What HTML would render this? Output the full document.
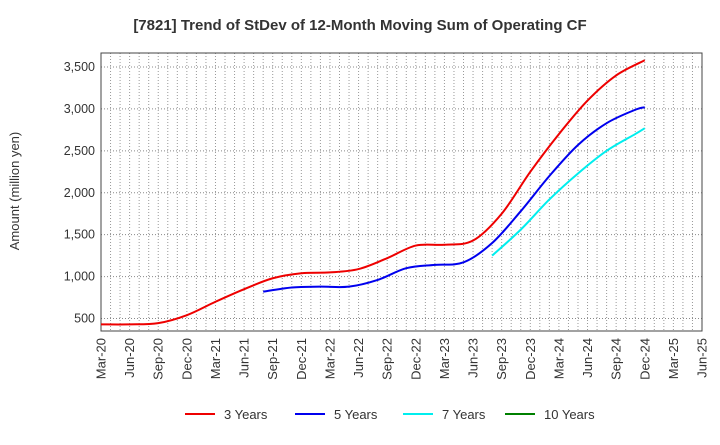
<!DOCTYPE html>
<html><head><meta charset="utf-8"><style>
body{margin:0;background:#fff;font-family:"Liberation Sans",Arial,sans-serif}
svg text{font-family:"Liberation Sans",Arial,sans-serif}
</style></head><body>
<svg id="c" width="720" height="440" xmlns="http://www.w3.org/2000/svg">
<text x="360" y="30" text-anchor="middle" font-size="15" font-weight="bold" fill="#333">[7821]  Trend of StDev of 12-Month Moving Sum of Operating CF</text>
<text transform="translate(19,191) rotate(-90)" text-anchor="middle" font-size="13" fill="#333">Amount (million yen)</text>
<g id="grid"></g><g id="axes"></g><g id="series"></g><g id="legend"></g>
</svg>
<script>
const xLabels=["Mar-20","Jun-20","Sep-20","Dec-20","Mar-21","Jun-21","Sep-21","Dec-21","Mar-22","Jun-22","Sep-22","Dec-22","Mar-23","Jun-23","Sep-23","Dec-23","Mar-24","Jun-24","Sep-24","Dec-24","Mar-25","Jun-25"];
const yTicks=[500,1000,1500,2000,2500,3000,3500];
const m3=[0,3,6,9,12,15,18,21,24,27,30,33,36,39,42,45,48,51,54,57];
const v3=[430,430,445,540,700,850,980,1040,1050,1090,1220,1370,1380,1430,1750,2250,2700,3100,3400,3580];
const m5=[17,20,23,26,29,32,35,38,41,44,47,50,53,56,57];
const v5=[820,870,880,880,960,1100,1140,1170,1400,1780,2200,2570,2830,2990,3020];
const m7=[41,44,47,50,53,56,57];
const v7=[1250,1560,1920,2230,2500,2700,2770];
const m10=[];const v10=[];
const L=101,R=702,T=53,B=331,yMin=351,yMax=3667,nM=63;
const X=m=>L+(R-L)*m/nM, Y=v=>B-(B-T)*(v-yMin)/(yMax-yMin);
const NS="http://www.w3.org/2000/svg";
function mk(tag,at,par){const e=document.createElementNS(NS,tag);for(const k in at)e.setAttribute(k,at[k]);document.getElementById(par).appendChild(e);return e;}
for(let m=0;m<=nM;m++){const g=mk("line",{x1:X(m),x2:X(m),y1:T,y2:B,stroke:"#999","stroke-dasharray":"1,2","stroke-width":1},"grid");

}
yTicks.forEach(v=>{const g=mk("line",{x1:L,x2:R,y1:Y(v),y2:Y(v),stroke:"#888","stroke-dasharray":"1,2"},"grid");


const t=mk("text",{x:L-6,y:Y(v)+4,"text-anchor":"end","font-size":12.5,fill:"#333"},"axes");t.textContent=v.toLocaleString("en-US");

});
const fr=mk("rect",{x:L,y:T,width:R-L,height:B-T,fill:"none",stroke:"#444"},"axes");


xLabels.forEach((s,i)=>{const x=X(i*3);const t=mk("text",{transform:`translate(${x+4.5},${B+7}) rotate(-90)`,"text-anchor":"end","font-size":13,fill:"#333"},"axes");t.textContent=s;

});
function path(ms,vs){if(!ms.length)return "";const p=ms.map((m,i)=>[X(m),Y(vs[i])]);let d=`M${p[0][0]},${p[0][1]}`;
for(let i=0;i<p.length-1;i++){const p0=p[i-1]||p[i],p1=p[i],p2=p[i+1],p3=p[i+2]||p2;
d+=` C${p1[0]+(p2[0]-p0[0])/6},${p1[1]+(p2[1]-p0[1])/6} ${p2[0]-(p3[0]-p1[0])/6},${p2[1]-(p3[1]-p1[1])/6} ${p2[0]},${p2[1]}`;}return d;}
const S=[["3 Years",m3,v3,"#ee0000","series-3-years"],["5 Years",m5,v5,"#0000ee","series-5-years"],["7 Years",m7,v7,"#00eeee","series-7-years"],["10 Years",m10,v10,"#008000","series-10-years"]];
const lx=[185,295,403,505];
S.forEach((s,i)=>{if(s[1].length){const p=mk("path",{d:path(s[1],s[2]),fill:"none",stroke:s[3],"stroke-width":2},"series");

}
const l=mk("line",{x1:lx[i],x2:lx[i]+30,y1:414,y2:414,stroke:s[3],"stroke-width":2},"legend");


const t=mk("text",{x:lx[i]+39,y:419,"font-size":13,fill:"#333"},"legend");t.textContent=s[0];

});
</script>
</body></html>
